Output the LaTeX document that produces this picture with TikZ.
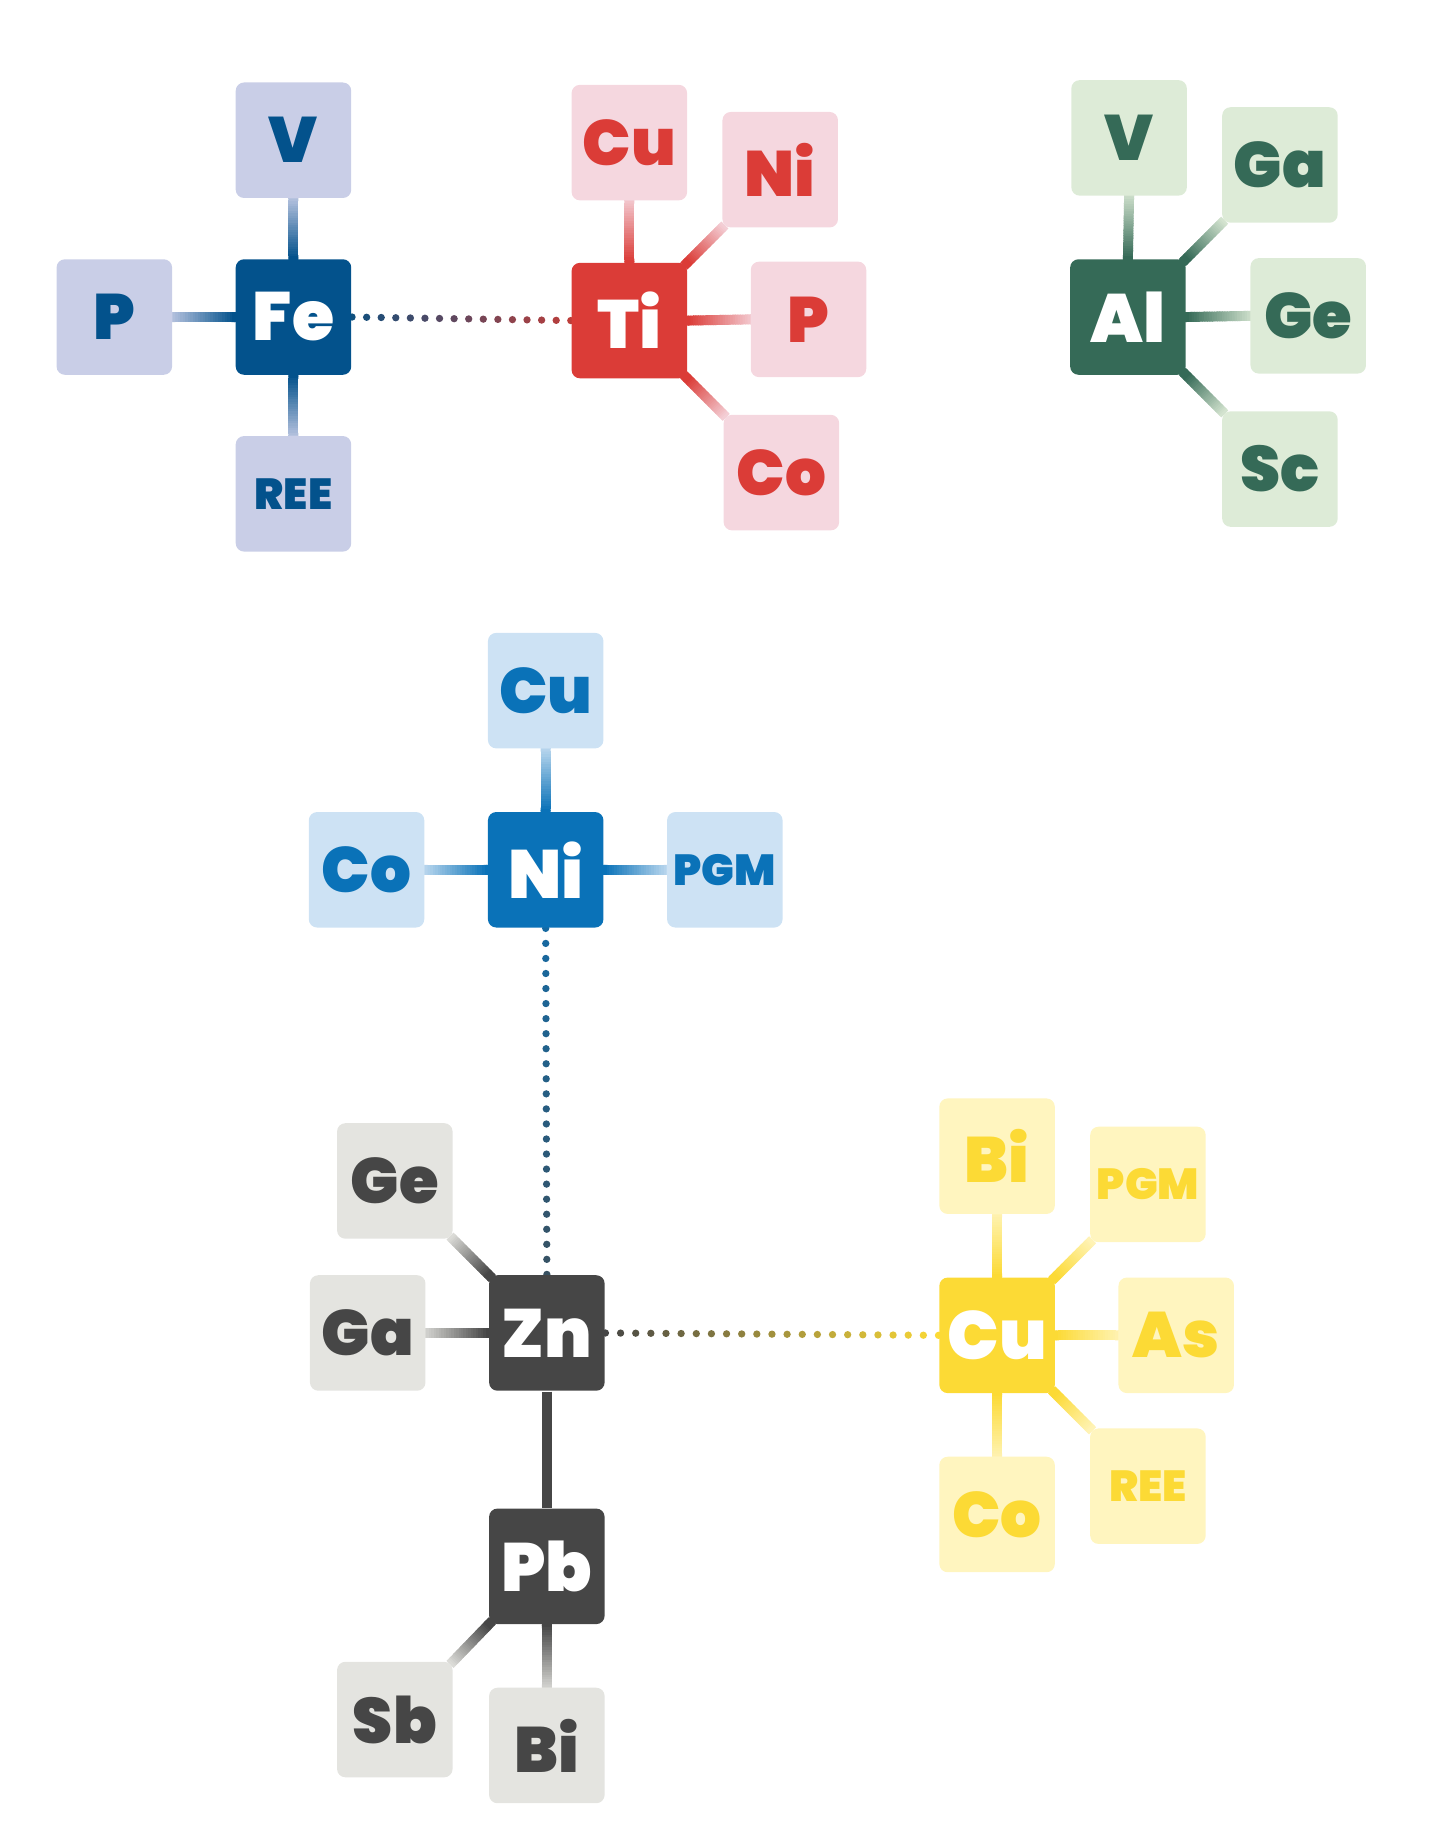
\documentclass[tikz,border=0pt]{standalone}
\usepackage{fontspec}
\usetikzlibrary{calc}
\newfontfamily\heavy{Poppins Black}

\pgfdeclarelayer{background}
\pgfsetlayers{background,main}

\definecolor{fedark}{HTML}{03528C}
\definecolor{felight}{HTML}{C9CEE7}
\definecolor{tidark}{HTML}{DB3C37}
\definecolor{tilight}{HTML}{F5D7DF}
\definecolor{aldark}{HTML}{356A57}
\definecolor{allight}{HTML}{DDEBD7}
\definecolor{nidark}{HTML}{0A72B8}
\definecolor{nilight}{HTML}{CDE2F4}
\definecolor{zndark}{HTML}{464646}
\definecolor{znlight}{HTML}{E4E4E0}
\definecolor{cudark}{HTML}{FCDA35}
\definecolor{culight}{HTML}{FFF5BF}

% shaded link: from, to, dark colour, light colour
\newcommand\shadelink[4]{%
  \foreach \i in {0,...,29}{
    \pgfmathtruncatemacro\pct{min(100,max(0,100-3.6*(\i-3)))}
    \draw[line width=2.4pt, color=#3!\pct!#4] ($(#1)!{(\i-3)/25}!(#2)$) -- ($(#1)!{(\i-1.6)/25}!(#2)$);
  }}

% dotted link: from, to, number of gaps, start colour, end colour
\newcommand\dotlink[5]{%
  \foreach \i in {0,...,#3}{
    \pgfmathtruncatemacro\pct{100*\i/#3}
    \fill[color=#5!\pct!#4] ($(#1)!\i/#3!(#2)$) circle (0.031);
  }}

\begin{document}
\begin{tikzpicture}[
    hub/.style={rectangle, rounded corners=2pt, minimum size=0.98cm, inner sep=0pt, text=white, font=\heavy\fontsize{16.5}{16}\selectfont},
    leaf/.style={rectangle, rounded corners=2pt, minimum size=0.98cm, inner sep=0pt, font=\heavy\fontsize{15.5}{16}\selectfont},
    tiny/.style={font=\heavy\fontsize{10.5}{11}\selectfont}
  ]

        \useasboundingbox (0,0) rectangle (12.24,-15.68);

        % Fe group

        \node (fe)    at ( 2.49, -2.69) [hub, fill=fedark] {Fe};
        \node (fe-v)  at ( 2.49, -1.19) [leaf, fill=felight, text=fedark] {V};
        \node (fe-p)  at ( 0.97, -2.69) [leaf, fill=felight, text=fedark] {P};
        \node (fe-ree) at ( 2.49, -4.19) [leaf, tiny, fill=felight, text=fedark] {REE};

        % Ti group

        \node (ti)    at ( 5.34, -2.72) [hub, fill=tidark] {Ti};
        \node (ti-cu) at ( 5.34, -1.21) [leaf, fill=tilight, text=tidark] {Cu};
        \node (ti-ni) at ( 6.62, -1.44) [leaf, fill=tilight, text=tidark] {Ni};
        \node (ti-p)  at ( 6.86, -2.71) [leaf, fill=tilight, text=tidark] {P};
        \node (ti-co) at ( 6.63, -4.01) [leaf, fill=tilight, text=tidark] {Co};

        % Al group

        \node (al)    at ( 9.57, -2.69) [hub, fill=aldark] {Al};
        \node (al-v)  at ( 9.58, -1.17) [leaf, fill=allight, text=aldark] {V};
        \node (al-ga) at (10.86, -1.40) [leaf, fill=allight, text=aldark] {Ga};
        \node (al-ge) at (11.10, -2.68) [leaf, fill=allight, text=aldark] {Ge};
        \node (al-sc) at (10.86, -3.98) [leaf, fill=allight, text=aldark] {Sc};

        % Ni group

        \node (ni)     at ( 4.63, -7.38) [hub, fill=nidark] {Ni};
        \node (ni-cu)  at ( 4.63, -5.86) [leaf, fill=nilight, text=nidark] {Cu};
        \node (ni-co)  at ( 3.11, -7.38) [leaf, fill=nilight, text=nidark] {Co};
        \node (ni-pgm) at ( 6.15, -7.38) [leaf, tiny, fill=nilight, text=nidark] {PGM};

        % Zn and Pb group

        \node (zn)    at ( 4.64, -11.31) [hub, fill=zndark] {Zn};
        \node (zn-ge) at ( 3.35, -10.02) [leaf, fill=znlight, text=zndark] {Ge};
        \node (zn-ga) at ( 3.12, -11.31) [leaf, fill=znlight, text=zndark] {Ga};
        \node (pb)    at ( 4.64, -13.29) [hub, fill=zndark] {Pb};
        \node (pb-sb) at ( 3.35, -14.59) [leaf, fill=znlight, text=zndark] {Sb};
        \node (pb-bi) at ( 4.64, -14.81) [leaf, fill=znlight, text=zndark] {Bi};

        % Cu group

        \node (cu)     at ( 8.46, -11.33) [hub, fill=cudark] {Cu};
        \node (cu-bi)  at ( 8.46, -9.81) [leaf, fill=culight, text=cudark] {Bi};
        \node (cu-pgm) at ( 9.74, -10.05) [leaf, tiny, fill=culight, text=cudark] {PGM};
        \node (cu-as)  at ( 9.98, -11.33) [leaf, fill=culight, text=cudark] {As};
        \node (cu-ree) at ( 9.74, -12.61) [leaf, tiny, fill=culight, text=cudark] {REE};
        \node (cu-co)  at ( 8.46, -12.85) [leaf, fill=culight, text=cudark] {Co};

        % Draw links between nodes

        \begin{pgfonlayer}{background}

        \shadelink{fe.north}{fe-v.south}{fedark}{felight}
        \shadelink{fe.west}{fe-p.east}{fedark}{felight}
        \shadelink{fe.south}{fe-ree.north}{fedark}{felight}

        \shadelink{ti.north}{ti-cu.south}{tidark}{tilight}
        \shadelink{ti.north east}{ti-ni.south west}{tidark}{tilight}
        \shadelink{ti.east}{ti-p.west}{tidark}{tilight}
        \shadelink{ti.south east}{ti-co.north west}{tidark}{tilight}

        \shadelink{al.north}{al-v.south}{aldark}{allight}
        \shadelink{al.north east}{al-ga.south west}{aldark}{allight}
        \shadelink{al.east}{al-ge.west}{aldark}{allight}
        \shadelink{al.south east}{al-sc.north west}{aldark}{allight}

        \shadelink{ni.north}{ni-cu.south}{nidark}{nilight}
        \shadelink{ni.west}{ni-co.east}{nidark}{nilight}
        \shadelink{ni.east}{ni-pgm.west}{nidark}{nilight}

        \shadelink{zn.north west}{zn-ge.south east}{zndark}{znlight}
        \shadelink{zn.west}{zn-ga.east}{zndark}{znlight}
        \draw[line width=2.4pt, zndark] (zn) -- (pb);
        \shadelink{pb.south west}{pb-sb.north east}{zndark}{znlight}
        \shadelink{pb.south}{pb-bi.north}{zndark}{znlight}

        \shadelink{cu.north}{cu-bi.south}{cudark}{culight}
        \shadelink{cu.north east}{cu-pgm.south west}{cudark}{culight}
        \shadelink{cu.east}{cu-as.west}{cudark}{culight}
        \shadelink{cu.south east}{cu-ree.north west}{cudark}{culight}
        \shadelink{cu.south}{cu-co.north}{cudark}{culight}

        % dotted links between groups

        \dotlink{fe.east}{ti.west}{15}{fedark!80!zndark}{tidark}
        \dotlink{ni.south}{zn.north}{23}{nidark!80!zndark}{zndark!70!nidark}
        \dotlink{zn.east}{cu.west}{22}{zndark}{cudark}

        \end{pgfonlayer}

    \end{tikzpicture}
\end{document}
